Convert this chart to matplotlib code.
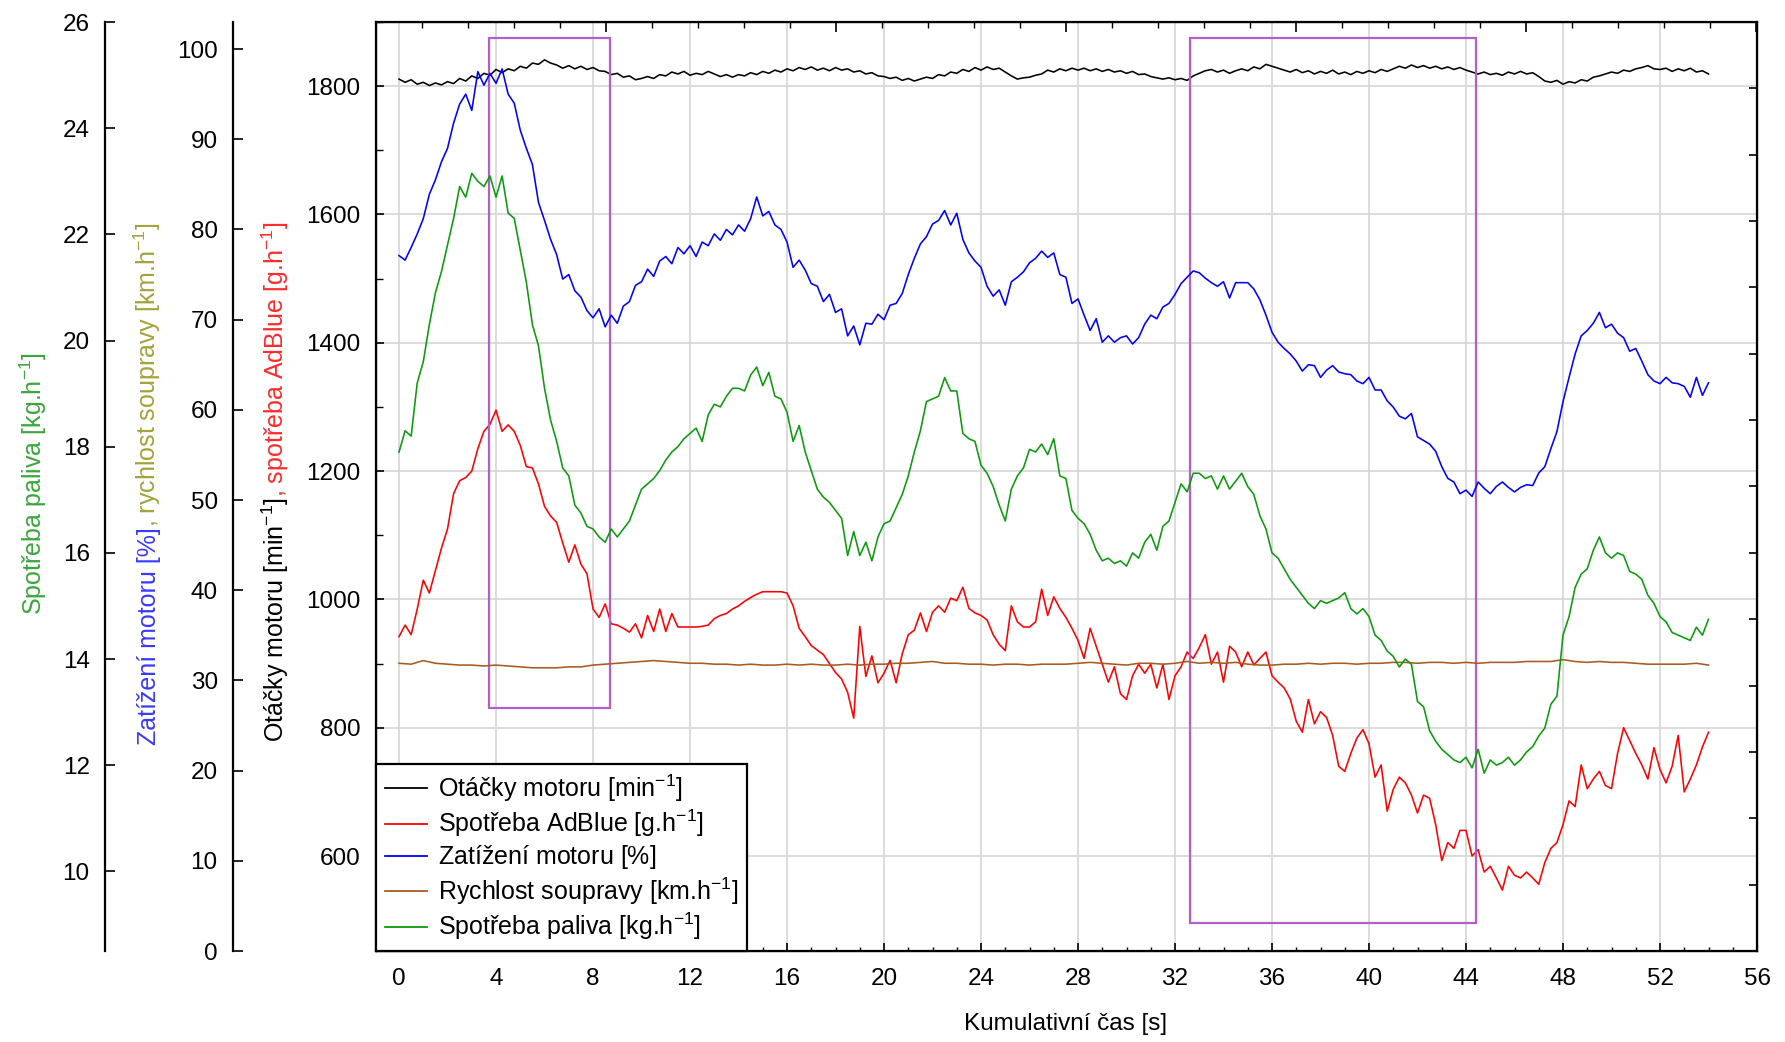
import matplotlib

matplotlib.use("Agg")
import matplotlib.pyplot as plt
import numpy as np
from matplotlib.lines import Line2D
from matplotlib.patches import Rectangle
from matplotlib.ticker import MultipleLocator

plt.rcParams.update(
    {
        "font.family": ["Liberation Sans", "DejaVu Sans"],
        "font.size": 17.5,
        "mathtext.fontset": "custom",
        "mathtext.rm": "Liberation Sans",
        "mathtext.it": "Liberation Sans:italic",
        "mathtext.bf": "Liberation Sans:bold",
    }
)

# sampling of the logged signals [s]
step_fast = 0.25
step_slow = 0.5

# Otáčky motoru [min-1] (inner axis), one value per 0.25 s
otacky = [
    1811, 1806, 1810, 1803, 1806, 1801, 1805, 1802,
    1807, 1804, 1812, 1808, 1816, 1812, 1820, 1817,
    1826, 1821, 1827, 1824, 1831, 1828, 1836, 1834,
    1841, 1836, 1833, 1828, 1832, 1827, 1831, 1826,
    1829, 1824, 1823, 1818, 1820, 1814, 1816, 1810,
    1812, 1815, 1812, 1818, 1816, 1822, 1819, 1823,
    1817, 1820, 1818, 1823, 1819, 1815, 1818, 1814,
    1818, 1816, 1821, 1818, 1823, 1820, 1825, 1822,
    1827, 1824, 1829, 1826, 1830, 1825, 1828, 1824,
    1829, 1825, 1827, 1822, 1824, 1819, 1821, 1816,
    1815, 1812, 1814, 1809, 1812, 1808, 1811, 1814,
    1812, 1818, 1816, 1822, 1820, 1826, 1823, 1829,
    1825, 1830, 1826, 1828, 1822, 1816, 1811, 1813,
    1814, 1817, 1819, 1825, 1822, 1827, 1824, 1828,
    1825, 1828, 1824, 1827, 1823, 1826, 1822, 1824,
    1820, 1823, 1818, 1819, 1815, 1813, 1811, 1813,
    1810, 1812, 1809, 1816, 1820, 1824, 1826, 1822,
    1825, 1820, 1824, 1827, 1824, 1830, 1827, 1834,
    1831, 1828, 1825, 1822, 1826, 1821, 1824, 1819,
    1823, 1820, 1825, 1819, 1822, 1818, 1823, 1820,
    1824, 1821, 1826, 1823, 1827, 1831, 1828, 1833,
    1829, 1832, 1828, 1831, 1827, 1830, 1826, 1829,
    1825, 1822, 1819, 1822, 1818, 1820, 1817, 1822,
    1819, 1823, 1819, 1821, 1815, 1808, 1806, 1809,
    1803, 1807, 1805, 1810, 1808, 1814, 1816, 1819,
    1822, 1820, 1825, 1823, 1827, 1829, 1832, 1827,
    1826, 1828, 1823, 1827, 1824, 1828, 1822, 1824,
    1819,
]

# Spotřeba AdBlue [g.h-1] (inner axis)
adblue = [
    942, 960, 945, 985, 1030, 1010, 1045, 1080,
    1110, 1165, 1185, 1190, 1200, 1235, 1262, 1273,
    1295, 1262, 1272, 1262, 1240, 1207, 1205, 1180,
    1145, 1130, 1120, 1088, 1058, 1085, 1055, 1040,
    985, 972, 993, 962, 960, 955, 949, 962,
    940, 975, 950, 985, 950, 978, 957, 957,
    957, 957, 958, 960, 970, 975, 978, 985,
    990, 997, 1003, 1008, 1012, 1012, 1012, 1012,
    1010, 990, 955, 942, 928, 921, 914, 900,
    886, 876, 855, 815, 958, 880, 912, 870,
    885, 905, 870, 915, 945, 952, 979, 950,
    980, 990, 980, 1002, 998, 1019, 986, 979,
    975, 968, 945, 930, 920, 990, 965, 957,
    957, 965, 1016, 975, 1004, 986, 972, 955,
    936, 908, 955, 927, 899, 871, 895, 853,
    844, 881, 899, 885, 899, 862, 899, 844,
    881, 895, 918, 908, 925, 945, 899, 918,
    871, 927, 918, 895, 918, 898, 908, 918,
    881, 871, 862, 845, 810, 793, 844, 806,
    825, 816, 788, 740, 732, 760, 784, 797,
    775, 723, 742, 670, 704, 723, 714, 695,
    667, 695, 690, 649, 593, 621, 612, 640,
    640, 600, 610, 575, 584, 566, 547, 584,
    570, 566, 575, 566, 556, 590, 612, 621,
    649, 686, 677, 742, 705, 720, 732, 710,
    705, 760, 800, 780, 760, 742, 720, 769,
    735, 714, 740, 788, 700, 720, 742, 770,
    793,
]

# Zatížení motoru [%] (middle axis)
zatizeni = [
    77.1, 76.6, 78.0, 79.5, 81.2, 83.9, 85.5, 87.5,
    89.0, 91.8, 93.9, 95.0, 93.2, 97.5, 96.0, 97.3,
    96.2, 97.8, 95.0, 94.0, 91.0, 89.0, 87.2, 83.0,
    81.0, 78.9, 77.2, 74.5, 75.0, 73.2, 72.5, 71.0,
    70.2, 71.2, 69.2, 70.5, 69.6, 71.5, 72.0, 73.8,
    74.2, 75.6, 74.8, 76.5, 77.0, 76.2, 78.0, 77.3,
    78.2, 77.0, 78.6, 78.2, 79.5, 78.8, 80.0, 79.4,
    80.5, 79.8, 81.2, 83.6, 81.5, 82.0, 80.5, 80.0,
    78.6, 75.8, 76.6, 75.5, 74.0, 73.7, 72.0, 72.8,
    70.8, 71.2, 68.2, 69.3, 67.2, 69.6, 69.5, 70.6,
    70.0, 71.6, 71.8, 72.9, 75.0, 76.8, 78.4, 79.2,
    80.6, 81.0, 82.1, 80.5, 81.8, 78.9, 77.4, 76.5,
    75.8, 73.7, 72.6, 73.3, 71.6, 74.2, 74.7, 75.3,
    76.3, 76.8, 77.6, 76.9, 77.4, 75.0, 74.7, 71.8,
    72.3, 70.5, 68.8, 70.1, 67.5, 68.2, 67.5, 68.0,
    68.2, 67.3, 68.0, 69.5, 70.5, 70.1, 71.4, 71.8,
    72.8, 74.0, 74.7, 75.4, 75.2, 74.6, 74.1, 73.7,
    74.2, 72.4, 74.1, 74.1, 74.1, 73.4, 72.2, 70.5,
    68.6, 67.5, 66.8, 66.2, 65.4, 64.3, 65.0, 64.9,
    63.6, 64.4, 64.9, 64.2, 64.0, 63.9, 63.2, 62.9,
    63.6, 62.2, 62.2, 61.0, 60.3, 59.3, 59.0, 59.6,
    57.0, 56.6, 56.2, 55.4, 53.7, 52.4, 52.0, 50.7,
    51.1, 50.4, 52.0, 51.3, 50.7, 51.5, 52.0, 51.4,
    50.9, 51.4, 51.7, 51.6, 53.0, 53.7, 55.7, 57.6,
    60.9, 63.6, 66.2, 68.2, 68.8, 69.6, 70.8, 69.1,
    69.5, 68.5, 68.0, 66.5, 66.8, 65.4, 63.9, 63.2,
    62.9, 63.6, 63.0, 62.9, 62.6, 61.4, 63.6, 61.6,
    63.0,
]

# Rychlost soupravy [km.h-1] (middle axis), one value per 0.5 s
rychlost = [
    31.9, 31.8, 32.2, 31.9, 31.8, 31.7, 31.7, 31.6,
    31.7, 31.6, 31.5, 31.4, 31.4, 31.4, 31.5, 31.5,
    31.7, 31.8, 31.9, 32.0, 32.1, 32.2, 32.1, 32.0,
    31.9, 31.9, 31.8, 31.8, 31.7, 31.8, 31.7, 31.7,
    31.8, 31.7, 31.8, 31.7, 31.7, 31.8, 31.7, 31.8,
    31.8, 31.9, 31.9, 32.0, 32.1, 31.9, 31.9, 31.8,
    31.8, 31.7, 31.8, 31.8, 31.7, 31.8, 31.8, 31.8,
    31.9, 32.0, 31.9, 31.8, 31.7, 31.9, 31.9, 31.8,
    31.9, 32.1, 31.9, 32.0, 31.9, 32.0, 31.8, 31.7,
    31.7, 31.8, 31.8, 31.9, 31.8, 31.9, 31.9, 31.8,
    31.9, 31.9, 32.0, 32.0, 31.9, 32.0, 32.0, 31.9,
    32.0, 31.9, 32.0, 32.0, 32.0, 32.1, 32.1, 32.1,
    32.3, 32.1, 32.0, 32.1, 32.0, 32.0, 31.9, 31.8,
    31.8, 31.8, 31.8, 31.9,
    31.7,
]

# Spotřeba paliva [kg.h-1] (outer axis)
palivo = [
    17.9, 18.3, 18.2, 19.2, 19.6, 20.3, 20.9, 21.3,
    21.8, 22.3, 22.9, 22.7, 23.15, 23.0, 22.9, 23.1,
    22.7, 23.1, 22.4, 22.3, 21.7, 21.1, 20.3, 19.9,
    19.1, 18.5, 18.1, 17.6, 17.45, 16.9, 16.75, 16.5,
    16.45, 16.3, 16.2, 16.45, 16.3, 16.45, 16.6, 16.9,
    17.2, 17.3, 17.4, 17.55, 17.75, 17.9, 18.0, 18.15,
    18.25, 18.35, 18.1, 18.6, 18.8, 18.75, 18.95, 19.1,
    19.1, 19.05, 19.35, 19.5, 19.15, 19.4, 18.95, 18.9,
    18.65, 18.1, 18.4, 17.9, 17.55, 17.2, 17.05, 16.95,
    16.8, 16.65, 15.95, 16.4, 15.95, 16.2, 15.85, 16.3,
    16.55, 16.6, 16.85, 17.1, 17.45, 17.9, 18.3, 18.85,
    18.9, 18.95, 19.3, 19.05, 19.05, 18.25, 18.15, 18.1,
    17.65, 17.5, 17.25, 16.9, 16.6, 17.2, 17.45, 17.6,
    17.95, 17.9, 18.05, 17.85, 18.15, 17.45, 17.4, 16.8,
    16.65, 16.55, 16.35, 16.05, 15.85, 15.9, 15.8, 15.85,
    15.75, 16.0, 15.9, 16.2, 16.35, 16.05, 16.5, 16.6,
    16.95, 17.3, 17.15, 17.5, 17.5, 17.4, 17.45, 17.2,
    17.45, 17.2, 17.35, 17.5, 17.25, 17.1, 16.7, 16.45,
    16.0, 15.9, 15.7, 15.5, 15.35, 15.2, 15.05, 14.95,
    15.1, 15.05, 15.1, 15.15, 15.25, 14.95, 14.85, 14.95,
    14.8, 14.45, 14.35, 14.15, 14.05, 13.85, 14.0, 13.9,
    13.2, 13.1, 12.65, 12.45, 12.3, 12.2, 12.1, 12.05,
    12.15, 11.95, 12.3, 11.85, 12.1, 12.0, 12.05, 12.15,
    12.0, 12.1, 12.25, 12.35, 12.55, 12.7, 13.15, 13.3,
    14.45, 14.8, 15.35, 15.6, 15.7, 16.05, 16.3, 16.0,
    15.9, 16.0, 15.95, 15.65, 15.6, 15.5, 15.2, 15.05,
    14.8, 14.7, 14.5, 14.45, 14.4, 14.35, 14.6, 14.45,
    14.75,
]

# highlighted windows: (t from, t to, rpm low, rpm high)
okna = [(3.71, 8.68, 831, 1875), (32.61, 44.41, 496, 1875)]

labels = [
    "Otáčky motoru [min$^{-1}$]",
    "Spotřeba AdBlue [g.h$^{-1}$]",
    "Zatížení motoru [%]$^{\\ }$",
    "Rychlost soupravy [km.h$^{-1}$]",
    "Spotřeba paliva [kg.h$^{-1}$]",
]
colors = ["black", "#ff0000", "#0000ff", "#a85a20", "#0b9a0b"]

t_fast = np.arange(len(otacky)) * step_fast
t_slow = np.arange(len(rychlost)) * step_slow

W, H = 1785, 1042
L, R, T, B = 376, 1757, 22, 951
rect = [L / W, 1 - B / H, (R - L) / W, (B - T) / H]

fig = plt.figure(figsize=(W / 100, H / 100), dpi=100)
ax = fig.add_axes(rect)
ax.set_xlim(-0.95, 56)
ax.set_ylim(452, 1900)
ax.xaxis.set_major_locator(MultipleLocator(4))
ax.xaxis.set_minor_locator(MultipleLocator(1))
ax.yaxis.set_major_locator(MultipleLocator(200))
ax.yaxis.set_minor_locator(MultipleLocator(100))
ax.tick_params(axis="x", which="major", direction="in", length=6, width=1.2, pad=12, top=False)
ax.tick_params(axis="x", which="minor", direction="in", length=3, width=1, top=False)
ax.tick_params(axis="y", which="major", direction="in", length=6, width=1.2, pad=11, right=False)
ax.tick_params(axis="y", which="minor", direction="in", length=5, width=1, right=False)
ax.grid(True, which="major", color="#d9d9d9", lw=1.3)
ax.set_axisbelow(True)
for s in ax.spines.values():
    s.set_linewidth(1.6)

# extra tick rows on the top and right frame
ax_top = ax.twiny()
ax_top.set_xlim(0, (R - L) / 46.0)
ax_top.xaxis.set_major_locator(MultipleLocator(5))
ax_top.xaxis.set_minor_locator(MultipleLocator(1))
ax_top.tick_params(axis="x", which="major", direction="in", length=7, width=1.2, labeltop=False)
ax_top.tick_params(axis="x", which="minor", direction="in", length=4, width=1)

ax_right = ax.twinx()
ax_right.set_ylim(0, (B - T) / 66.36)
ax_right.yaxis.set_major_locator(MultipleLocator(1))
ax_right.tick_params(axis="y", direction="in", length=6, width=1.2, labelright=False)


def side_axis(pos_px, ylim, step):
    a = fig.add_axes(rect, sharex=ax)
    a.patch.set_visible(False)
    for s in ["top", "right", "bottom"]:
        a.spines[s].set_visible(False)
    a.spines["left"].set_position(("axes", (pos_px - L) / (R - L)))
    a.spines["left"].set_linewidth(1.6)
    a.xaxis.set_visible(False)
    a.set_ylim(*ylim)
    a.yaxis.set_major_locator(MultipleLocator(step))
    a.tick_params(axis="y", direction="in", length=7, width=1.2, pad=11)
    return a


ax_mid = side_axis(233, (0, 103), 10)
ax_out = side_axis(105, (8.5, 26), 2)

lw = 1.15
ax.plot(t_fast, otacky, color=colors[0], lw=lw)
ax.plot(t_fast, adblue, color=colors[1], lw=lw)
ax_mid.plot(t_fast, zatizeni, color=colors[2], lw=lw)
ax_mid.plot(t_slow, rychlost, color=colors[3], lw=lw)
ax_out.plot(t_fast, palivo, color=colors[4], lw=lw)

for x0, x1, y0, y1 in okna:
    ax.add_patch(Rectangle((x0, y0), x1 - x0, y1 - y0, fill=False, ec="#b35fc9", lw=1.6, zorder=5))

handles = [Line2D([], [], color=c, lw=1.3) for c in colors]
leg = ax_out.legend(
    handles, labels, loc="lower left", bbox_to_anchor=(0, 0), bbox_transform=ax.transAxes,
    borderaxespad=0, frameon=True, fancybox=False, edgecolor="black", framealpha=1,
    handlelength=1.7, handletextpad=0.42, labelspacing=0.16, borderpad=0.35, fontsize=18,
)
leg.get_frame().set_linewidth(1.6)

fig.text(1066 / W, 1 - 1024 / H, "Kumulativní čas [s]", ha="center", va="center", fontsize=17.5)


def stacked_ylabel(parts, x_px, yc_px):
    renderer = fig.canvas.get_renderer()
    texts = [
        fig.text(0, 0, s, color=c, rotation=90, rotation_mode="anchor", ha="left", va="baseline", fontsize=18)
        for s, c in parts
    ]
    sizes = [t.get_window_extent(renderer).height for t in texts]
    y = (H - yc_px) - sum(sizes) / 2
    for t, h in zip(texts, sizes):
        t.set_position((x_px / W, y / H))
        y += h


stacked_ylabel([("Spotřeba paliva [kg.h$^{-1}$]", "#3aa63a")], 42, 484)
stacked_ylabel(
    [("Zatížení motoru [%]", "#3a3aff"), (", rychlost soupravy [km.h$^{-1}$]", "#a3a33a")], 156, 484
)
stacked_ylabel(
    [("Otáčky motoru [min$^{-1}$]", "black"), (", spotřeba AdBlue [g.h$^{-1}$]", "#ff2b2b")], 284, 482
)

fig.savefig("out.png", dpi=100)
